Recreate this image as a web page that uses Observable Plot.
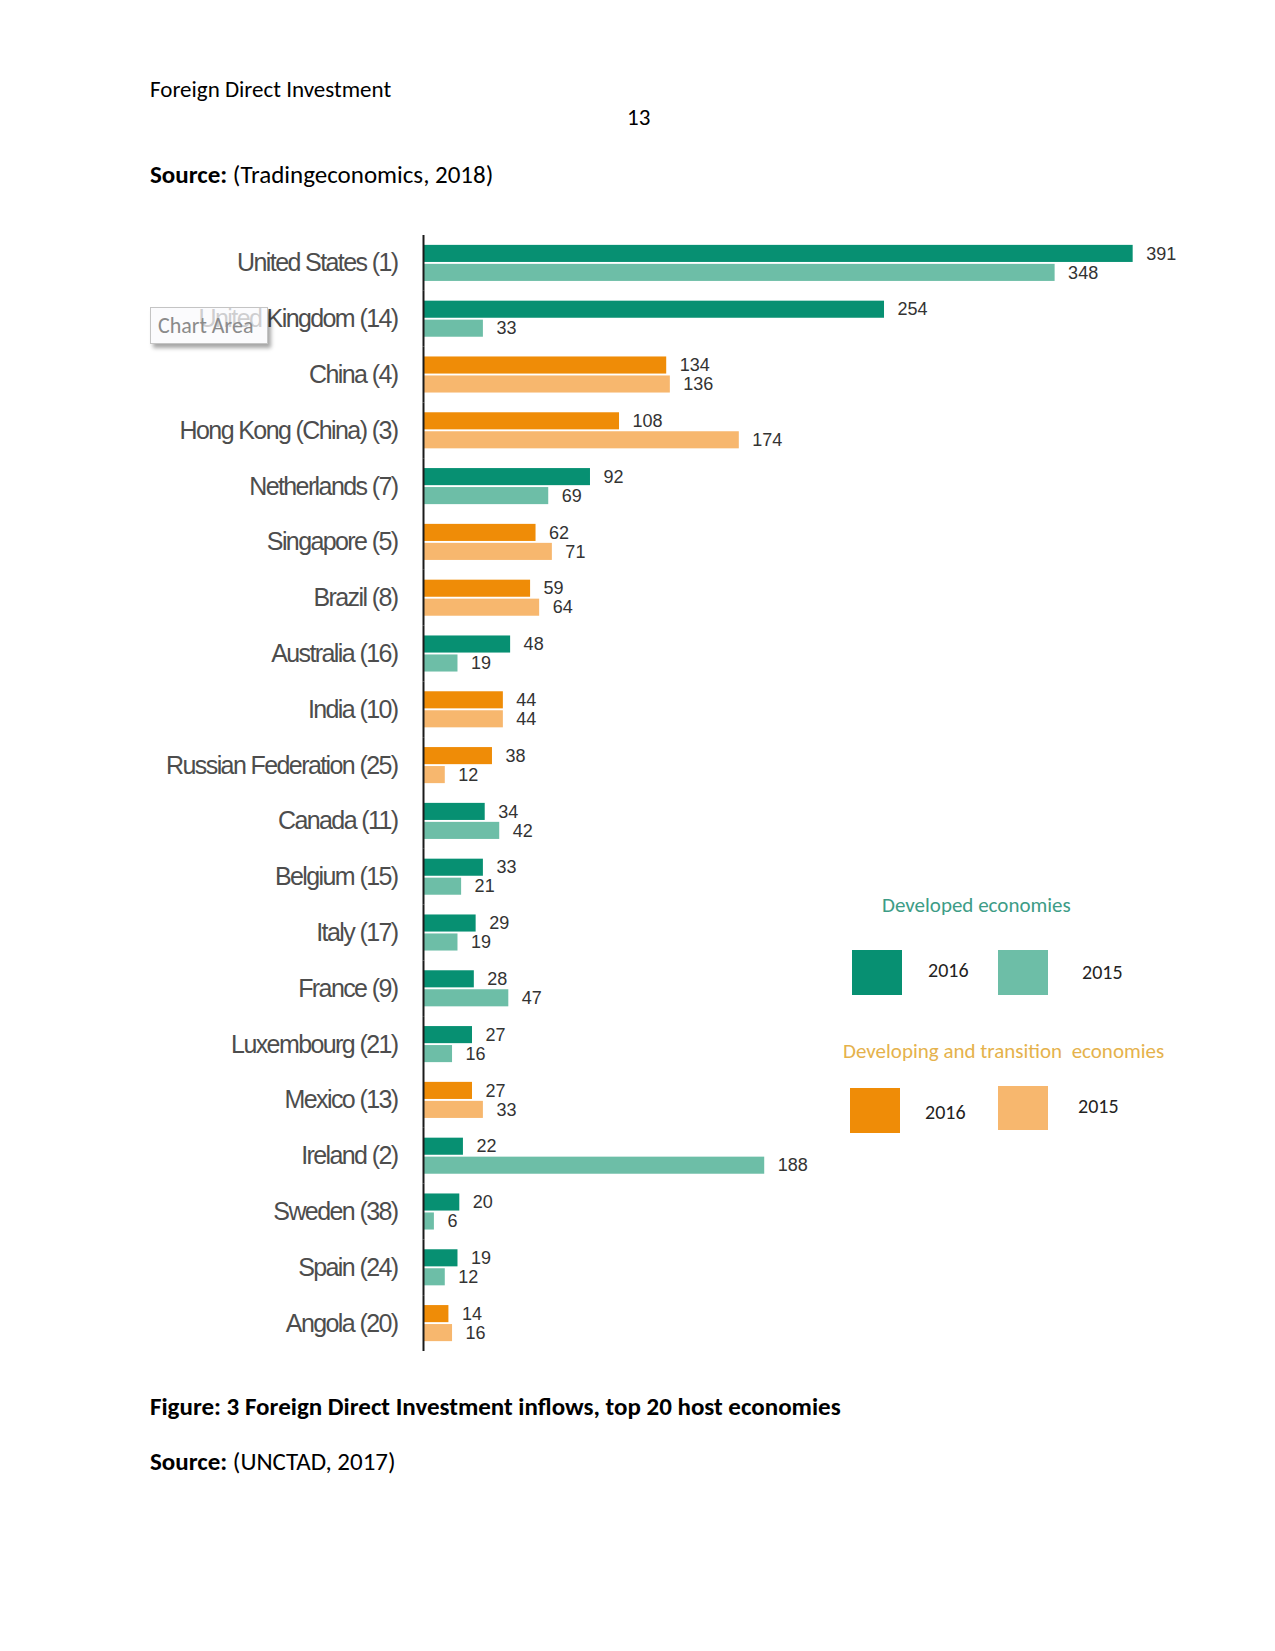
<!DOCTYPE html>
<html>
<head>
<meta charset="utf-8">
<script src="https://cdn.jsdelivr.net/npm/d3@7"></script>
<script src="https://cdn.jsdelivr.net/npm/@observablehq/plot@0.6"></script>
<style>
  html, body { margin: 0; padding: 0; background: #fff; }
  #page { position: relative; width: 1275px; height: 1651px; background: #fff; overflow: hidden;
          font-family: Carlito, Calibri, Lato, "Open Sans", sans-serif; color: #000; }
  .t { position: absolute; white-space: nowrap; }
  .sq { position: absolute; }
  #chart { position: absolute; left: 0; top: 231px; line-height: 0; }
  #chart g[aria-label="text"] { letter-spacing: 0px; }
  .lg { font-family: Carlito, Calibri, "Open Sans", Lato, sans-serif; font-size: 20px; color: #222; }
</style>
</head>
<body>
<div id="page">
  <div class="t" style="left:150px; top:75px; font-size:23px; line-height:28px;">Foreign Direct Investment</div>
  <div class="t" style="left:627px; top:103px; font-size:23px; line-height:28px;">13</div>
  <div class="t" style="left:150px; top:160px; font-size:25px; line-height:30px;"><b>Source:</b> (Tradingeconomics, 2018)</div>

  <div id="chart"></div>

  <div class="t lg" style="left:882px; top:893px; color:#3d9c86; font-size:21px; line-height:24px;">Developed economies</div>
  <div class="sq" style="left:852px; top:950px; width:50px; height:45px; background:#079072;"></div>
  <div class="t lg" style="left:928px; top:958px; line-height:24px;">2016</div>
  <div class="sq" style="left:998px; top:950px; width:50px; height:45px; background:#6dbea7;"></div>
  <div class="t lg" style="left:1082px; top:960px; line-height:24px;">2015</div>

  <div class="t lg" style="left:843px; top:1039px; color:#e5b24c; font-size:21px; line-height:24px;">Developing and transition&nbsp; economies</div>
  <div class="sq" style="left:850px; top:1088px; width:50px; height:45px; background:#ef8c07;"></div>
  <div class="t lg" style="left:925px; top:1100px; line-height:24px;">2016</div>
  <div class="sq" style="left:998px; top:1086px; width:50px; height:44px; background:#f7b76e;"></div>
  <div class="t lg" style="left:1078px; top:1094px; line-height:24px;">2015</div>

  <div class="t" style="left:150px; top:1392px; font-size:25px; line-height:30px; font-weight:bold;">Figure: 3 Foreign Direct Investment inflows, top 20 host economies</div>
  <div class="t" style="left:150px; top:1447px; font-size:25px; line-height:30px;"><b>Source:</b> (UNCTAD, 2017)</div>

  <div class="t" style="left:150px; top:307px; width:116px; height:35px; background:rgba(250,250,252,0.75); border:1px solid #c4c4c4; box-shadow:3px 4px 4px rgba(0,0,0,0.35); font-size:22px; line-height:35px; color:#8a8a8a; text-indent:7px;">Chart Area</div>
</div>

<script>
// ---- data ----
const countries = [
  "United States (1)", "United Kingdom (14)", "China (4)", "Hong Kong (China) (3)",
  "Netherlands (7)", "Singapore (5)", "Brazil (8)", "Australia (16)", "India (10)",
  "Russian Federation (25)", "Canada (11)", "Belgium (15)", "Italy (17)", "France (9)",
  "Luxembourg (21)", "Mexico (13)", "Ireland (2)", "Sweden (38)", "Spain (24)", "Angola (20)"
];
const inflows2016 = [391, 254, 134, 108, 92, 62, 59, 48, 44, 38, 34, 33, 29, 28, 27, 27, 22, 20, 19, 14];
const inflows2015 = [348, 33, 136, 174, 69, 71, 64, 19, 44, 12, 42, 21, 19, 47, 16, 33, 188, 6, 12, 16];
const economyGroup = [
  "Developed", "Developed", "Developing", "Developing", "Developed", "Developing", "Developing",
  "Developed", "Developing", "Developing", "Developed", "Developed", "Developed", "Developed",
  "Developed", "Developing", "Developed", "Developed", "Developed", "Developing"
];
const years = ["2016", "2015"];
const seriesKeys = ["Developed 2016", "Developed 2015", "Developing 2016", "Developing 2015"];
const seriesColors = ["#079072", "#6dbea7", "#ef8c07", "#f7b76e"];

// ---- table ----
const rows = [];
countries.forEach((c, i) => {
  rows.push({country: c, year: "2016", value: inflows2016[i], key: economyGroup[i] + " 2016"});
  rows.push({country: c, year: "2015", value: inflows2015[i], key: economyGroup[i] + " 2015"});
});

const chart = Plot.plot({
  width: 1275,
  height: 1120,
  marginLeft: 423,
  marginRight: 126,
  marginTop: 4,
  marginBottom: 0,
  style: {fontFamily: '"Liberation Sans", Arial, sans-serif', fontSize: "25px", color: "#4d4d4d", background: "transparent", letterSpacing: "-1.6px"},
  x: {domain: [0, 400], axis: null},
  y: {domain: years, axis: null, paddingInner: 0.1, paddingOuter: 0.52, round: false},
  fy: {domain: countries, axis: "left", label: null, tickSize: 0, tickPadding: 26, padding: 0, round: false},
  color: {domain: seriesKeys, range: seriesColors},
  marks: [
    Plot.barX(rows, {x: "value", y: "year", fy: "country", fill: "key"}),
    Plot.text(rows, {x: "value", y: "year", fy: "country", text: d => String(d.value),
      textAnchor: "start", dx: 13, fontSize: 18, fill: "#333"}),
    Plot.ruleX([0], {stroke: "#1a1a1a", strokeWidth: 2})
  ]
});
document.getElementById("chart").appendChild(chart);
</script>
</body>
</html>
